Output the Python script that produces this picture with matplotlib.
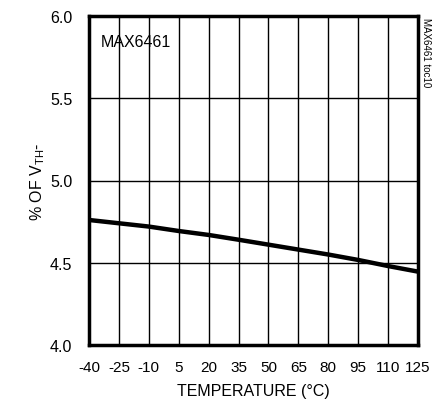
import matplotlib
matplotlib.use('Agg')
import matplotlib.pyplot as plt

# 温度 vs 阈值百分比
temps = [-40, -25, -10, 5, 20, 35, 50, 65, 80, 95, 110, 125]
pct_vth = [4.76, 4.74, 4.72, 4.693, 4.669, 4.64, 4.61, 4.58, 4.55, 4.517, 4.48, 4.446]
x_ticks = [-40, -25, -10, 5, 20, 35, 50, 65, 80, 95, 110, 125]
y_ticks = [4.0, 4.5, 5.0, 5.5, 6.0]

plt.rcParams['font.family'] = ['Liberation Sans', 'DejaVu Sans']
plt.rcParams['axes.unicode_minus'] = False

fig = plt.figure(figsize=(4.39, 4.02), dpi=100)
ax = fig.add_axes([89 / 439, 1 - 346 / 402, 329 / 439, 329 / 402])

ax.plot(temps, pct_vth, color='black', lw=3.2, solid_capstyle='butt', zorder=3)

ax.set_xlim(-40, 125)
ax.set_ylim(4.0, 6.0)
ax.set_xticks(x_ticks)
ax.set_yticks(y_ticks)
ax.set_yticklabels(['{:.1f}'.format(v) for v in y_ticks])
ax.tick_params(length=0)
ax.tick_params(axis='x', pad=11, labelsize=11)
ax.tick_params(axis='y', pad=12, labelsize=11.5)
ax.grid(True, color='black', lw=1.0)
for s in ax.spines.values():
    s.set_linewidth(2.5)

ax.set_xlabel('TEMPERATURE (°C)', fontsize=11.5, labelpad=6)
ax.set_ylabel('% OF V$_{\\mathregular{TH}}$-', fontsize=11.5, labelpad=2)

ax.text(0.036, 0.945, 'MAX6461', transform=ax.transAxes, fontsize=11.5, va='top', ha='left')
fig.text(426 / 439, 1 - 18 / 402, 'MAX6461 toc10', rotation=-90, fontsize=7, va='top', ha='center')

fig.savefig('out.png', dpi=100)
